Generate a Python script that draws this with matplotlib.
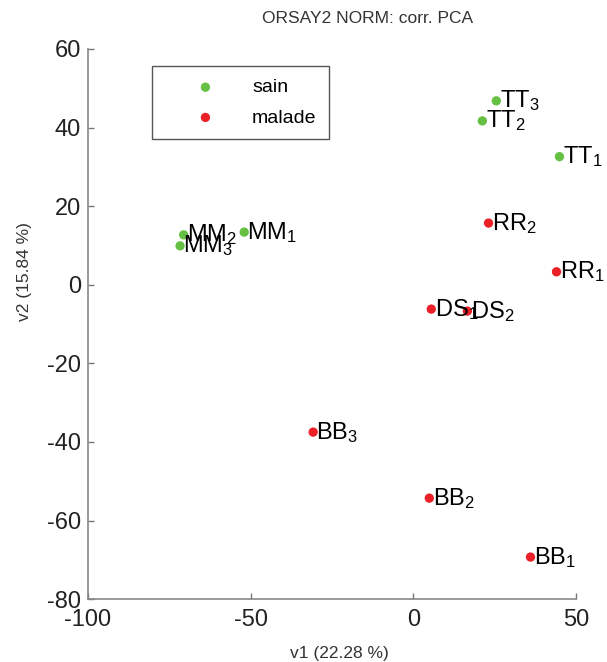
import numpy as np
import matplotlib
matplotlib.use("Agg")
from matplotlib import pyplot as plt

plt.rcParams['font.family'] = ['Liberation Sans', 'DejaVu Sans']
plt.rcParams['mathtext.default'] = 'regular'
plt.rcParams['axes.unicode_minus'] = False

# PCA scores
sain_names = ["MM1", "MM2", "MM3", "TT1", "TT2", "TT3"]
sain_x = [-52.0, -70.6, -71.7, 44.9, 21.2, 25.5]
sain_y = [13.4, 12.7, 9.9, 32.6, 41.7, 46.8]

malade_names = ["RR1", "RR2", "DS1", "DS2", "BB1", "BB2", "BB3"]
malade_x = [44.0, 23.1, 5.5, 16.6, 36.0, 4.9, -30.8]
malade_y = [3.3, 15.7, -6.2, -6.7, -69.3, -54.3, -37.5]

x_ticks = [-100, -50, 0, 50]
y_ticks = [-80, -60, -40, -20, 0, 20, 40, 60]

green = '#66c043'
red = '#ec2127'

fig = plt.figure(figsize=(6.07, 6.62), dpi=100)
ax = fig.add_axes([0.145, 0.095, 0.804, 0.831])

ax.scatter(sain_x, sain_y, s=45, color=green, edgecolors='none', label='sain', zorder=3)
ax.scatter(malade_x, malade_y, s=45, color=red, edgecolors='none', label='malade', zorder=3)

def sub_label(name):
    return name[:-1] + r'$_{' + name[-1] + '}$'

for n, x, y in zip(sain_names + malade_names, sain_x + malade_x, sain_y + malade_y):
    ax.text(x + 1.0, y, sub_label(n), fontsize=17, color='black', va='center', ha='left', zorder=4)

ax.set_xlim(-100, 50)
ax.set_ylim(-80, 60)
ax.set_xticks(x_ticks)
ax.set_yticks(y_ticks)
ax.tick_params(direction='in', length=4, width=1, color='#777777', labelsize=17, labelcolor='#222222', pad=5)
ax.tick_params(axis='x', pad=7)
for s in ['top', 'right']:
    ax.spines[s].set_visible(False)
for s in ['left', 'bottom']:
    ax.spines[s].set_color('#888888')
    ax.spines[s].set_linewidth(1.2)

ax.set_xlabel('v1 (22.28 %)', fontsize=12.5, color='#333333')
ax.set_ylabel('v2 (15.84 %)', fontsize=12.5, color='#333333')
ax.yaxis.set_label_coords(-0.115, 0.595)
ax.xaxis.set_label_coords(0.515, -0.085)

fig.text(0.605, 0.972, 'ORSAY2 NORM: corr. PCA', fontsize=12.5, color='#333333', ha='center', va='center')

leg = ax.legend(loc='upper left', bbox_to_anchor=(0.131, 0.969), fontsize=14,
                handlelength=4.2, handletextpad=0.3, borderpad=0.65, labelspacing=0.65,
                fancybox=False, framealpha=1, edgecolor='#555555', borderaxespad=0)
leg.get_frame().set_linewidth(1.0)

fig.savefig('out.png', dpi=100)
